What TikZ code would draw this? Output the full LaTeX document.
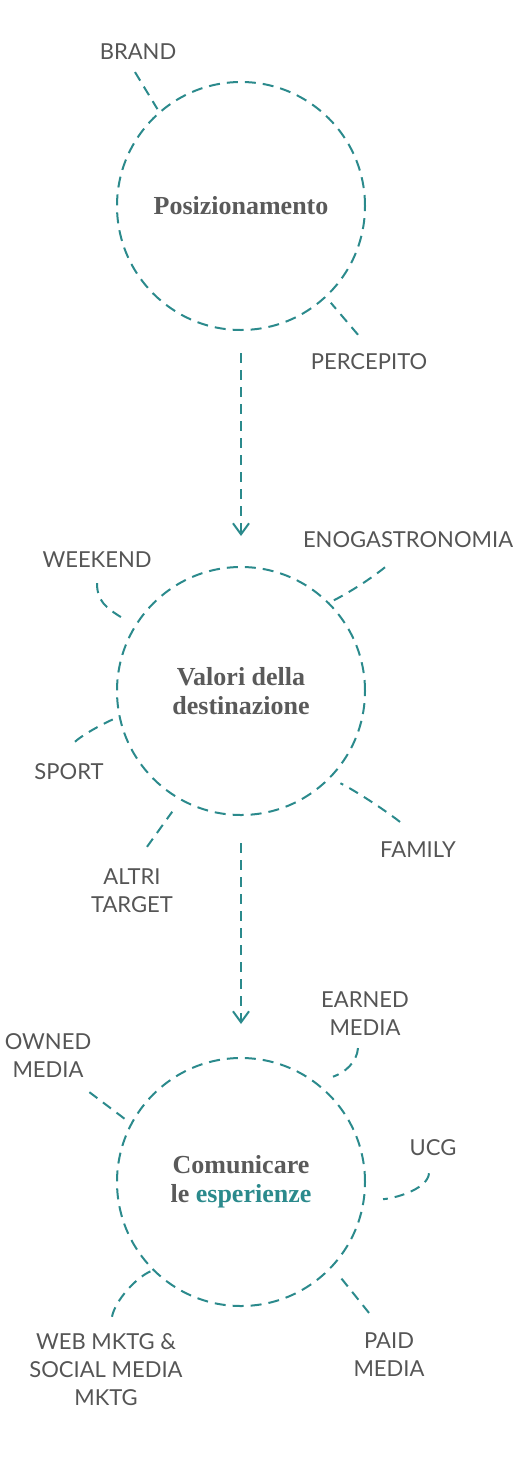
\documentclass[tikz,border=0pt]{standalone}
\usepackage{fontspec}
\setmainfont{Liberation Serif}
\setsansfont{Lato}
\usetikzlibrary{arrows.meta,positioning}
\definecolor{lagoon}{HTML}{2B8A8C}
\definecolor{slate}{HTML}{555555}
\definecolor{slatedark}{HTML}{5A5A5A}

\begin{document}
\begin{tikzpicture}[
  x=1pt,y=-1pt,
  >={Straight Barb[length=11pt,width=16pt]},
  hub/.style={circle,draw=lagoon,line width=2pt,dash pattern=on 11pt off 7pt,minimum size=248pt,inner sep=0pt,align=center,text=slatedark,font=\rmfamily\bfseries\fontsize{26}{29}\selectfont},
  tag/.style={inner sep=0pt,align=center,text=slate,font=\sffamily\fontsize{22}{28}\selectfont},
  link/.style={draw=lagoon,line width=2pt,dash pattern=on 10pt off 7pt},
  flow/.style={link,->}
]
  \useasboundingbox (0,0) rectangle (520,1459);

  \node[hub] (pos) at (241,206) {Posizionamento};
  \node[hub,below=235pt of pos] (valori) {Valori della\\destinazione};
  \node[hub,below=241pt of valori] (comm) {Comunicare\\le \textcolor{lagoon}{esperienze}};

  \node[tag] (brand) at (138,52) {BRAND};
  \node[tag] (percepito) at (369,362) {PERCEPITO};
  \node[tag] (eno) at (408,540) {ENOGASTRONOMIA};
  \node[tag] (weekend) at (97,560) {WEEKEND};
  \node[tag] (sport) at (69,772) {SPORT};
  \node[tag] (altri) at (132,891) {ALTRI\\TARGET};
  \node[tag] (family) at (418,850) {FAMILY};
  \node[tag] (earned) at (365,1014) {EARNED\\MEDIA};
  \node[tag] (owned) at (48,1056) {OWNED\\MEDIA};
  \node[tag] (ucg) at (433,1148) {UCG};
  \node[tag] (web) at (106,1370) {WEB MKTG \&\\SOCIAL MEDIA\\MKTG};
  \node[tag] (paid) at (389,1355) {PAID\\MEDIA};

  \draw[flow,shorten <=22pt,shorten >=30pt] (pos) -- (valori);
  \draw[flow,shorten <=27pt,shorten >=33pt] (valori) -- (comm);

  \draw[link,shorten >=3pt] ([xshift=-3pt,yshift=-12pt]brand.south) -- (pos.131);
  \draw[link,shorten >=7pt] ([xshift=-11pt,yshift=19pt]percepito.north) -- (pos.-47);
  \draw[link] ([xshift=-23pt,yshift=-19pt]eno.south) .. controls +(-15,12) and +(20,-10) .. (valori.45);
  \draw[link] ([yshift=-15pt]weekend.south) .. controls +(0,18) and +(-16,-10) .. ([xshift=-13pt,yshift=7pt]valori.148);
  \draw[link,shorten >=4pt] ([xshift=6pt,yshift=22pt]sport.north) .. controls +(10,-9) and +(-10,4) .. (valori.192);
  \draw[link,shorten >=14pt] ([xshift=15pt,yshift=22pt]altri.north) -- (valori.241);
  \draw[link] ([xshift=-18pt,yshift=20pt]family.north) .. controls +(-14,-11) and +(16,8) .. ([xshift=8pt,yshift=-7pt]valori.-43);
  \draw[link] ([xshift=-7pt,yshift=-12pt]earned.south) .. controls +(-1,14) and +(12,-4) .. ([xshift=10pt,yshift=11pt]comm.49);
  \draw[link,shorten >=7pt] ([xshift=-2pt,yshift=-14pt]owned.south east) -- (comm.152);
  \draw[link] ([xshift=-4pt,yshift=-17pt]ucg.south) .. controls +(-1,14) and +(18,-2) .. ([xshift=18pt,yshift=-2pt]comm.-7);
  \draw[link] ([xshift=6pt,yshift=17pt]web.north) .. controls +(3,-16) and +(-16,6) .. (comm.225);
  \draw[link,shorten >=13pt] ([xshift=-20pt,yshift=20pt]paid.north) -- (comm.-43);
\end{tikzpicture}
\end{document}
